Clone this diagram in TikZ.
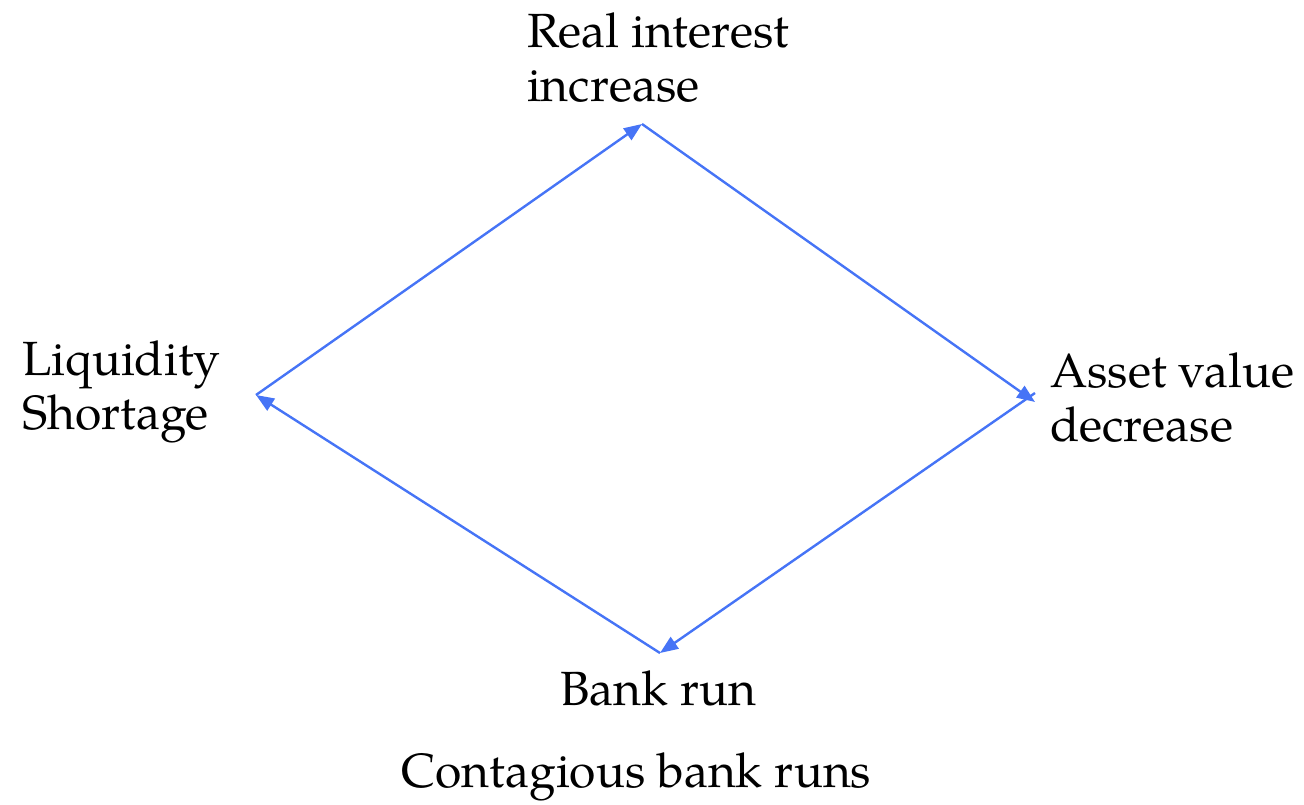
\documentclass[tikz,border=0pt]{standalone}
\usepackage{fontspec}
\setmainfont{TeX Gyre Pagella}
\usetikzlibrary{arrows.meta}
\definecolor{arrowblue}{RGB}{70,116,246}
\tikzset{
  lbl/.style={inner sep=0pt, font=\fontsize{48}{54}\selectfont, align=left},
  link/.style={draw=arrowblue, line width=2.4pt, -{Triangle[length=18pt,width=14pt]}},
}
\begin{document}
\begin{tikzpicture}[x=1pt,y=-1pt]
\useasboundingbox (0,0) rectangle (1304,805);
\node[lbl, anchor=base west] (ri) at (527,102) {Real interest\\increase};
\node[lbl, anchor=base west] (liq) at (22,429) {Liquidity\\Shortage};
\node[lbl, anchor=base west] (av) at (1050,441) {Asset value\\decrease};
\node[lbl, anchor=base] (br) at (658.5,705) {Bank run};
\node[lbl, anchor=base] (cbr) at (636.5,787) {Contagious bank runs};
\coordinate (top) at (642,124);
\coordinate (left) at (256,395);
\coordinate (right) at (1035,398);
\coordinate (bot) at (660,653);
\draw[link] (left) -- (top);
\draw[link] (top) -- ([yshift=-4]right);
\draw[link] ([yshift=5]right) -- (bot);
\draw[link] (bot) -- (left);
\end{tikzpicture}
\end{document}
